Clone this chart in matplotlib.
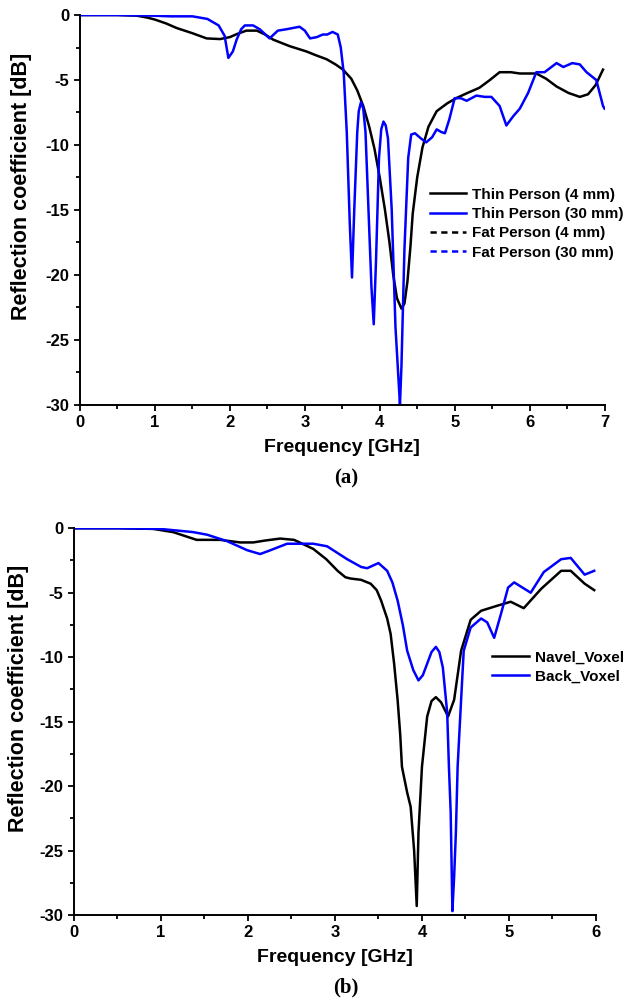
import matplotlib
matplotlib.use("Agg")
import matplotlib.pyplot as plt
from matplotlib.lines import Line2D
from matplotlib.ticker import MultipleLocator

# (a) thin person, 4 mm
freq_a_thin4 = [0, 0.5, 0.76, 0.9, 1.0, 1.15, 1.29, 1.5, 1.69, 1.87, 2.0, 2.1, 2.22, 2.36,
                2.47, 2.58, 2.8, 3.02, 3.15, 3.29, 3.41, 3.51, 3.62, 3.7, 3.78, 3.86,
                3.93, 4.0, 4.07, 4.13, 4.18, 4.23, 4.29, 4.33, 4.37, 4.41, 4.44, 4.5,
                4.57, 4.65, 4.76, 4.9, 5.02, 5.17, 5.33, 5.47, 5.6, 5.75, 5.87, 6.09,
                6.22, 6.36, 6.52, 6.67, 6.78, 6.88, 6.98]
s11_a_thin4 = [0, 0, -0.05, -0.2, -0.35, -0.65, -1.0, -1.4, -1.8, -1.85, -1.7, -1.45, -1.2, -1.2,
               -1.5, -1.9, -2.4, -2.8, -3.1, -3.4, -3.8, -4.2, -4.9, -5.8, -7.0, -8.6,
               -10.3, -12.5, -15, -17.5, -20, -21.8, -22.6, -22.2, -20.5, -17.8, -15.3, -12.5,
               -10.2, -8.6, -7.4, -6.8, -6.4, -6.0, -5.6, -5.0, -4.4, -4.4, -4.5, -4.5,
               -4.9, -5.5, -6.0, -6.3, -6.1, -5.4, -4.2]

# (a) thin person, 30 mm
freq_a_thin30 = [0, 0.5, 0.98, 1.2, 1.5, 1.7, 1.85, 1.93, 1.98, 2.04, 2.09, 2.15, 2.2,
                 2.31, 2.4, 2.53, 2.64, 2.75, 2.84, 2.93, 3.0, 3.07, 3.16, 3.24, 3.3,
                 3.37, 3.44, 3.48, 3.52, 3.56, 3.6, 3.63, 3.66, 3.7, 3.72, 3.75, 3.78,
                 3.81, 3.85, 3.89, 3.92, 3.95, 3.99, 4.02, 4.05, 4.08, 4.11, 4.16, 4.21,
                 4.25, 4.27, 4.29, 4.33, 4.38, 4.42, 4.47, 4.55, 4.62, 4.7, 4.76, 4.82,
                 4.87, 4.93, 5.0, 5.08, 5.16, 5.29, 5.4, 5.49, 5.6, 5.69, 5.78, 5.87,
                 5.98, 6.09, 6.2, 6.36, 6.45, 6.57, 6.67, 6.76, 6.89, 6.98, 7.0]
s11_a_thin30 = [0, 0, -0.05, -0.1, -0.1, -0.3, -0.8, -1.6, -3.3, -2.8, -1.9, -1.1, -0.8,
                -0.8, -1.1, -1.8, -1.2, -1.1, -1.0, -0.9, -1.2, -1.8, -1.7, -1.5, -1.5,
                -1.3, -1.5, -2.5, -4.5, -9, -16, -20.2, -15, -9, -7.4, -6.7, -7.2,
                -9, -15, -21, -23.8, -19, -11, -8.8, -8.2, -8.5, -9.5, -15, -24,
                -28, -30, -27, -18, -11, -9.2, -9.1, -9.5, -9.8, -9.4, -8.8, -9.0,
                -9.1, -8.0, -6.4, -6.4, -6.6, -6.2, -6.3, -6.3, -7.0, -8.5, -7.8, -7.2,
                -6.0, -4.4, -4.4, -3.7, -4.0, -3.7, -3.8, -4.4, -5.0, -7.0, -7.2]

# (b) navel voxel
freq_b_navel = [0, 0.5, 0.91, 1.14, 1.41, 1.68, 1.91, 2.06, 2.2, 2.37, 2.53, 2.75, 2.9,
                3.03, 3.12, 3.18, 3.3, 3.41, 3.48, 3.53, 3.6, 3.64, 3.68, 3.72, 3.75,
                3.77, 3.83, 3.87, 3.91, 3.94, 3.96, 4.0, 4.06, 4.11, 4.16, 4.22, 4.3,
                4.37, 4.45, 4.56, 4.68, 4.87, 5.02, 5.17, 5.37, 5.6, 5.71, 5.87, 5.98]
s11_b_navel = [0, 0, -0.05, -0.3, -0.9, -0.9, -1.1, -1.1, -0.95, -0.8, -0.9, -1.6, -2.4,
               -3.3, -3.8, -3.9, -4.0, -4.3, -4.8, -5.6, -7.0, -8.2, -10.5, -13.3, -16,
               -18.5, -20.5, -21.6, -25, -29.3, -23.6, -18.5, -14.6, -13.4, -13.1, -13.5, -14.6,
               -13.3, -9.5, -7.1, -6.4, -6.0, -5.7, -6.2, -4.7, -3.3, -3.3, -4.3, -4.8]

# (b) back voxel
freq_b_back = [0, 0.5, 0.99, 1.37, 1.53, 1.76, 1.99, 2.14, 2.26, 2.45, 2.75, 2.91, 3.14,
               3.3, 3.37, 3.5, 3.6, 3.66, 3.72, 3.78, 3.83, 3.9, 3.96, 4.01, 4.06,
               4.11, 4.16, 4.2, 4.24, 4.29, 4.31, 4.33, 4.35, 4.37, 4.39, 4.41, 4.45,
               4.48, 4.56, 4.68, 4.75, 4.83, 4.91, 4.99, 5.06, 5.25, 5.4, 5.6, 5.71,
               5.87, 5.98]
s11_b_back = [0, 0, -0.05, -0.3, -0.5, -1.0, -1.7, -2.0, -1.7, -1.2, -1.2, -1.4, -2.4,
              -3.0, -3.1, -2.7, -3.3, -4.2, -5.6, -7.5, -9.5, -11.0, -11.8, -11.4, -10.5,
              -9.6, -9.2, -9.6, -10.8, -14.3, -18.5, -22, -29.7, -27, -23.6, -18.5, -13.3,
              -9.5, -7.7, -7.0, -7.3, -8.5, -6.6, -4.6, -4.2, -5.0, -3.4, -2.4, -2.3,
              -3.6, -3.3]

legend_a = ["Thin Person (4 mm)", "Thin Person (30 mm)", "Fat Person (4 mm)", "Fat Person (30 mm)"]
legend_b = ["Navel_Voxel", "Back_Voxel"]

plt.rcParams['font.family'] = ['Liberation Sans', 'DejaVu Sans']
plt.rcParams['font.weight'] = 'bold'
plt.rcParams['axes.unicode_minus'] = False

BLUE = '#0000ff'
BLACK = '#000000'


def style_axes(ax, xmax):
    ax.set_xlim(0, xmax)
    ax.set_ylim(-30, 0)
    ax.spines['top'].set_visible(False)
    ax.spines['right'].set_visible(False)
    for s in ('left', 'bottom'):
        ax.spines[s].set_linewidth(1.4)
    ax.xaxis.set_major_locator(MultipleLocator(1))
    ax.xaxis.set_minor_locator(MultipleLocator(0.5))
    ax.yaxis.set_major_locator(MultipleLocator(5))
    ax.yaxis.set_minor_locator(MultipleLocator(2.5))
    ax.tick_params(which='major', length=4.5, width=1.3, labelsize=12, pad=3)
    ax.tick_params(which='minor', length=3, width=1.3)
    for lab in ax.get_xticklabels() + ax.get_yticklabels():
        lab.set_fontweight('bold')
    ax.set_xlabel("Frequency [GHz]", fontsize=14, fontweight='bold', labelpad=6)
    ax.set_ylabel("Reflection coefficient [dB]", fontsize=15.5, fontweight='bold')


fig = plt.figure(figsize=(6.35, 10.02), dpi=100)

# panel (a)
ax1 = fig.add_axes([0.126, 0.596, 0.826, 0.389])
ax1.plot(freq_a_thin4, s11_a_thin4, color=BLACK, lw=1.8)
ax1.plot(freq_a_thin30, s11_a_thin30, color=BLUE, lw=1.8)
style_axes(ax1, 7)
ax1.yaxis.set_label_coords(-0.092, 0.56)
handles_a = [Line2D([], [], color=BLACK, lw=1.8),
             Line2D([], [], color=BLUE, lw=1.8),
             Line2D([], [], color=BLACK, lw=1.8, ls=(0, (2.5, 1.8))),
             Line2D([], [], color=BLUE, lw=1.8, ls=(0, (2.5, 1.8)))]
ax1.legend(handles_a, legend_a, loc='upper left', bbox_to_anchor=(0.655, 0.573),
           frameon=False, prop={'weight': 'bold', 'size': 11},
           handlelength=2.4, handletextpad=0.4, labelspacing=0.35, borderaxespad=0)
fig.text(0.545, 0.522, "(a)", family='Liberation Serif', fontweight='bold',
         fontsize=15, ha='center', va='center')

# panel (b)
ax2 = fig.add_axes([0.1165, 0.0868, 0.822, 0.386])
ax2.plot(freq_b_navel, s11_b_navel, color=BLACK, lw=1.8)
ax2.plot(freq_b_back, s11_b_back, color=BLUE, lw=1.8)
style_axes(ax2, 6)
ax2.yaxis.set_label_coords(-0.086, 0.56)
ax2.legend(legend_b, loc='upper left', bbox_to_anchor=(0.79, 0.7),
           frameon=False, prop={'weight': 'bold', 'size': 11},
           handlelength=2.4, handletextpad=0.4, labelspacing=0.35, borderaxespad=0)
fig.text(0.545, 0.014, "(b)", family='Liberation Serif', fontweight='bold',
         fontsize=15, ha='center', va='center')

fig.savefig("out.png", dpi=100)
